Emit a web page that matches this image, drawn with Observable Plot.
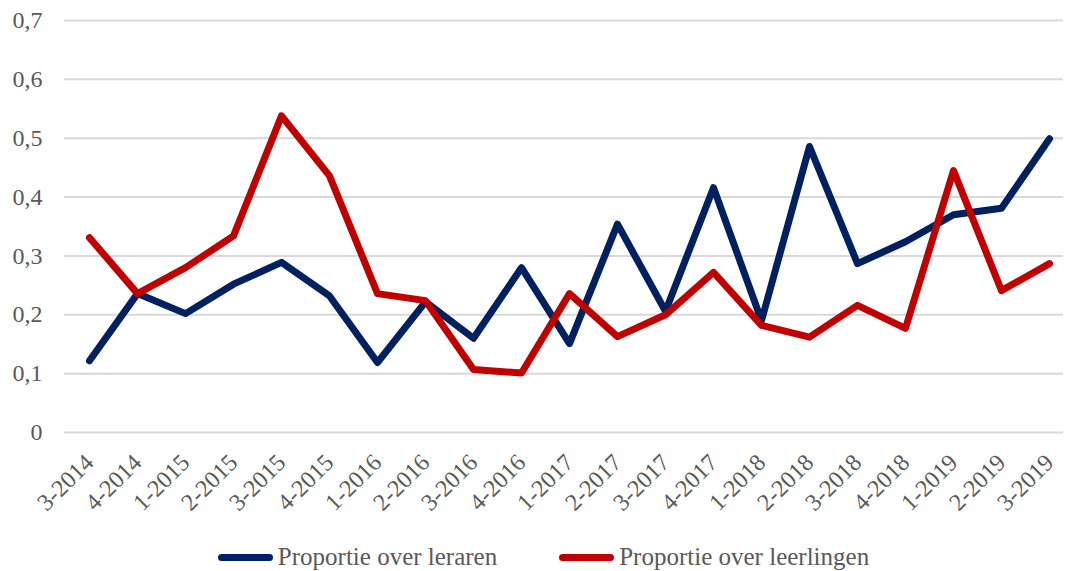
<!DOCTYPE html>
<html>
<head>
<meta charset="utf-8">
<script src="https://cdn.jsdelivr.net/npm/d3@7"></script>
<script src="https://cdn.jsdelivr.net/npm/@observablehq/plot@0.6"></script>
<style>
  body { margin: 0; background: #fff; font-family: "Liberation Serif", serif; }
  #legend { display: flex; justify-content: center; align-items: center; gap: 62px; height: 40px; margin-top: 7px; padding-left: 22px; color: #595959; font-size: 25px; }
  .item { display: flex; align-items: center; }
  .sw { width: 55px; height: 7px; border-radius: 4px; margin-right: 5px; }
</style>
</head>
<body>
<div id="chart"></div>
<div id="legend"></div>
<script>
const quarters = ["3-2014","4-2014","1-2015","2-2015","3-2015","4-2015","1-2016","2-2016","3-2016","4-2016","1-2017","2-2017","3-2017","4-2017","1-2018","2-2018","3-2018","4-2018","1-2019","2-2019","3-2019"];
const leraren = [0.122,0.236,0.202,0.252,0.289,0.232,0.119,0.222,0.160,0.280,0.151,0.354,0.206,0.416,0.190,0.486,0.287,0.324,0.370,0.381,0.499];
const leerlingen = [0.331,0.236,0.280,0.334,0.538,0.436,0.236,0.224,0.107,0.101,0.236,0.163,0.200,0.272,0.182,0.162,0.216,0.177,0.445,0.241,0.287];
const yTicks = [0,0.1,0.2,0.3,0.4,0.5,0.6,0.7];
const seriesNames = ["Proportie over leraren","Proportie over leerlingen"];
const seriesColors = ["#002060","#C00000"];

const data = [];
quarters.forEach((q, i) => {
  data.push({q, v: leraren[i], s: seriesNames[0]});
});
quarters.forEach((q, i) => {
  data.push({q, v: leerlingen[i], s: seriesNames[1]});
});

const fmt = d => d === 0 ? "0" : d.toFixed(1).replace(".", ",");

const chart = Plot.plot({
  width: 1065,
  height: 530,
  marginTop: 20,
  marginLeft: 64,
  marginRight: 2,
  marginBottom: 98,
  style: {fontFamily: "Liberation Serif", fontSize: "24px", color: "#595959", background: "#fff"},
  x: {type: "point", domain: quarters, padding: 0, insetLeft: 25, insetRight: 14},
  y: {domain: [0, 0.7]},
  color: {domain: seriesNames, range: seriesColors},
  marks: [
    Plot.ruleY(yTicks, {stroke: "#d9d9d9", strokeWidth: 2}),
    Plot.axisY({ticks: yTicks, tickSize: 0, tickPadding: 22, tickFormat: fmt, label: null, fontSize: 24, fill: "#595959"}),
    Plot.axisX({tickSize: 0, tickRotate: -45, tickPadding: 26, label: null, fontSize: 24, fill: "#595959"}),
    Plot.line(data, {x: "q", y: "v", z: "s", stroke: "s", strokeWidth: 7, strokeLinejoin: "round", strokeLinecap: "round"})
  ]
});
document.getElementById("chart").appendChild(chart);

const legend = document.getElementById("legend");
seriesNames.forEach((n, i) => {
  const it = document.createElement("div");
  it.className = "item";
  const sw = document.createElement("div");
  sw.className = "sw";
  sw.style.background = seriesColors[i];
  const t = document.createElement("span");
  t.textContent = n;
  it.appendChild(sw);
  it.appendChild(t);
  legend.appendChild(it);
});
</script>
</body>
</html>
